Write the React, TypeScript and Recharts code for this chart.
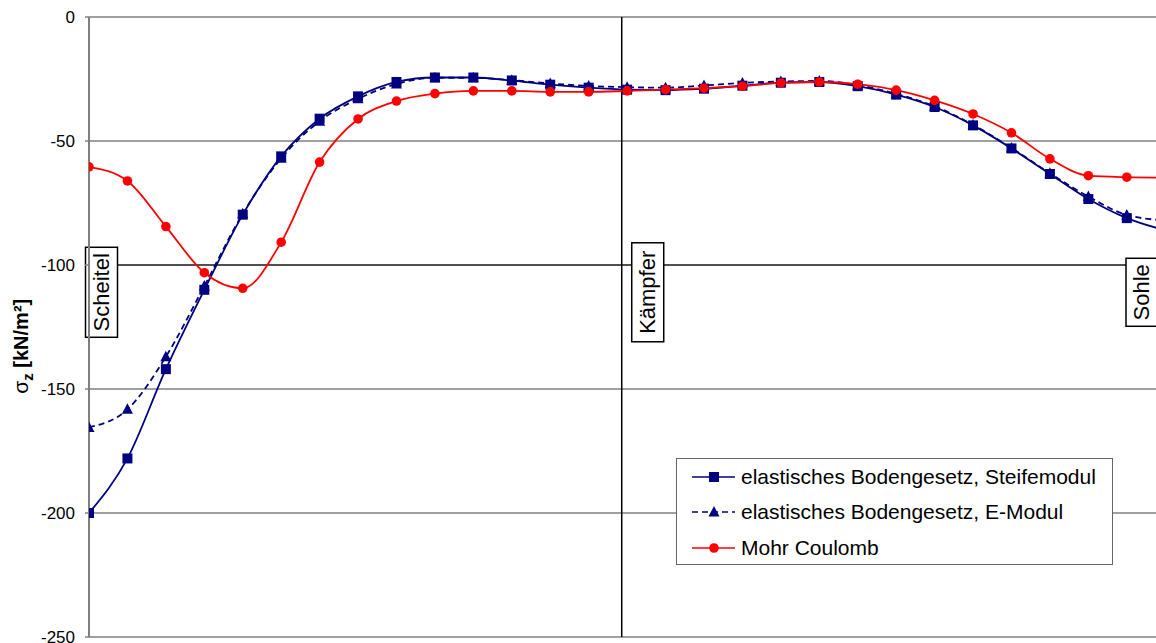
import React from 'react';
import { LineChart, Line, XAxis, YAxis, CartesianGrid, ReferenceLine, Legend } from 'recharts';

// Punkte entlang des Tunnelumfangs (Scheitel -> Kämpfer -> Sohle)
const positions = [0, 1, 2, 3, 4, 5, 6, 7, 8, 9, 10, 11, 12, 13, 14, 15, 16, 17, 18, 19, 20, 21, 22, 23, 24, 25, 26, 27, 28];

const steifemodul = [-200, -178, -142, -110, -79.7, -56.2, -41, -32, -26.2, -24.4, -24.4, -25.6, -27.3, -28.5, -29.3, -29.5, -28.9, -27.7, -26.5, -26.2, -27.9, -31.3, -36.3, -43.7, -53, -63.3, -73.4, -81.1, -86];
const eModul = [-165.5, -158.2, -137, -108.5, -79.3, -57, -42, -33, -27, -24.5, -24.5, -25.5, -26.8, -27.8, -28.3, -28.5, -27.6, -26.6, -26, -25.8, -27.5, -31, -36, -43.5, -52.8, -63, -72.4, -79.8, -82];
const mohrCoulomb = [-60.4, -66.1, -84.5, -103.1, -109.4, -90.8, -58.5, -41.1, -33.9, -30.9, -29.8, -29.8, -30.2, -30.2, -29.8, -29.3, -28.7, -27.9, -26.6, -26.2, -27.1, -29.5, -33.6, -39.1, -46.7, -57.2, -64, -64.6, -64.8];

const yTicks = [-250, -200, -150, -100, -50, 0];

// Lage der Markierungen auf der x-Achse
const scheitelPos = 0;
const kaempferPos = 13.86;
const sohlePos = 27.76;

const data = positions.map((x, i) => ({
  x,
  steife: steifemodul[i],
  emodul: eModul[i],
  mohr: mohrCoulomb[i],
}));

const NAVY = '#000080';
const RED = '#ff0000';
const FONT = '"Liberation Sans", Arial, sans-serif';

const square = (cx: number, cy: number, key?: any) => (
  <rect key={key} x={cx - 5} y={cy - 5} width={10} height={10} fill={NAVY} />
);
const triangle = (cx: number, cy: number, key?: any) => (
  <polygon key={key} points={`${cx},${cy - 6} ${cx - 5.5},${cy + 4.5} ${cx + 5.5},${cy + 4.5}`} fill={NAVY} />
);
const circle = (cx: number, cy: number, key?: any) => (
  <circle key={key} cx={cx} cy={cy} r={4.8} fill={RED} />
);

const dotOf = (shape: typeof square) => (p: any) => {
  if (p.cx == null || p.cy == null) return <g key={p.key} />;
  return shape(p.cx, p.cy, p.key);
};

const boxLabel = (text: string, dx: number, h: number) => (props: any) => {
  const vb = props.viewBox || {};
  const left = vb.x + dx;
  const cy = vb.y + vb.height * (111 / 250);
  const w = 32;
  return (
    <g>
      <rect x={left} y={cy - h / 2} width={w} height={h} fill="#fff" stroke="#000" strokeWidth={1.5} />
      <text
        x={left + w / 2}
        y={cy}
        transform={`rotate(-90, ${left + w / 2}, ${cy})`}
        textAnchor="middle"
        dominantBaseline="central"
        fontFamily={FONT}
        fontSize={22}
        fill="#000"
      >
        {text}
      </text>
    </g>
  );
};

const YTitle = (props: any) => {
  const vb = props.viewBox || { x: 0, y: 0, height: 0 };
  const x = vb.x + 28;
  const y = vb.y + vb.height * 0.531;
  return (
    <text
      x={x}
      y={y}
      transform={`rotate(-90, ${x}, ${y})`}
      textAnchor="middle"
      fontFamily={FONT}
      fontSize={20}
      fontWeight="bold"
      fill="#000"
    >
      <tspan fontWeight="normal" fontSize={21}>σ</tspan>
      <tspan dy={5} fontSize={15}>z</tspan>
      <tspan dy={-5}> [kN/m²]</tspan>
    </text>
  );
};

const legendItems = [
  { name: 'elastisches Bodengesetz, Steifemodul', color: NAVY, dash: undefined, shape: square },
  { name: 'elastisches Bodengesetz, E-Modul', color: NAVY, dash: '6 4', shape: triangle },
  { name: 'Mohr Coulomb', color: RED, dash: undefined, shape: circle },
];

const LegendBox = () => (
  <div
    style={{
      width: 437,
      height: 107,
      boxSizing: 'border-box',
      border: '1.5px solid #666',
      background: '#fff',
      paddingTop: 0,
      fontFamily: FONT,
      fontSize: 21,
      color: '#000',
    }}
  >
    {legendItems.map((it) => (
      <div key={it.name} style={{ display: 'flex', alignItems: 'center', height: 35.5, paddingLeft: 15 }}>
        <svg width={44} height={14} style={{ marginRight: 5 }}>
          <line x1={0} y1={7} x2={43} y2={7} stroke={it.color} strokeWidth={1.5} strokeDasharray={it.dash} />
          {it.shape(22, 7)}
        </svg>
        <span style={{ whiteSpace: 'nowrap' }}>{it.name}</span>
      </div>
    ))}
  </div>
);

export default function App() {
  return (
    <div style={{ position: 'absolute', left: 0, top: 0, width: 1156, height: 643, overflow: 'hidden', background: '#fff' }}>
      <LineChart width={1156} height={643} data={data} margin={{ top: 17, right: 0, left: 0, bottom: 6 }}>
        <CartesianGrid vertical={false} stroke="#808080" strokeWidth={1.5} />
        <XAxis type="number" dataKey="x" domain={[0, sohlePos]} allowDataOverflow hide />
        <YAxis
          type="number"
          domain={[-250, 0]}
          ticks={yTicks}
          width={89}
          interval={0}
          tickSize={4}
          tickMargin={10}
          axisLine={{ stroke: '#808080', strokeWidth: 2 }}
          tickLine={{ stroke: '#808080', strokeWidth: 1.5 }}
          tick={{ fill: '#000', fontSize: 17, fontFamily: FONT }}
          label={{ content: <YTitle /> }}
        />
        <ReferenceLine y={-100} stroke="#000" strokeWidth={1} />
        <ReferenceLine x={kaempferPos} stroke="#000" strokeWidth={1.5} label={boxLabel('Kämpfer', 10, 99)} />
        <ReferenceLine x={scheitelPos} stroke="none" label={boxLabel('Scheitel', -3.5, 90)} />
        <ReferenceLine x={sohlePos} stroke="none" label={boxLabel('Sohle', -30, 68)} />
        <Line
          type="monotone"
          dataKey="steife"
          name="elastisches Bodengesetz, Steifemodul"
          stroke={NAVY}
          strokeWidth={1.8}
          dot={dotOf(square)}
          activeDot={false}
          isAnimationActive={false}
        />
        <Line
          type="monotone"
          dataKey="emodul"
          name="elastisches Bodengesetz, E-Modul"
          stroke={NAVY}
          strokeWidth={1.8}
          strokeDasharray="6 4"
          dot={dotOf(triangle)}
          activeDot={false}
          isAnimationActive={false}
        />
        <Line
          type="monotone"
          dataKey="mohr"
          name="Mohr Coulomb"
          stroke={RED}
          strokeWidth={1.8}
          dot={dotOf(circle)}
          activeDot={false}
          isAnimationActive={false}
        />
        <Legend
          layout="vertical"
          align="center"
          verticalAlign="middle"
          content={<LegendBox />}
          wrapperStyle={{ left: 676, top: 458, width: 437, height: 107 }}
        />
      </LineChart>
    </div>
  );
}
